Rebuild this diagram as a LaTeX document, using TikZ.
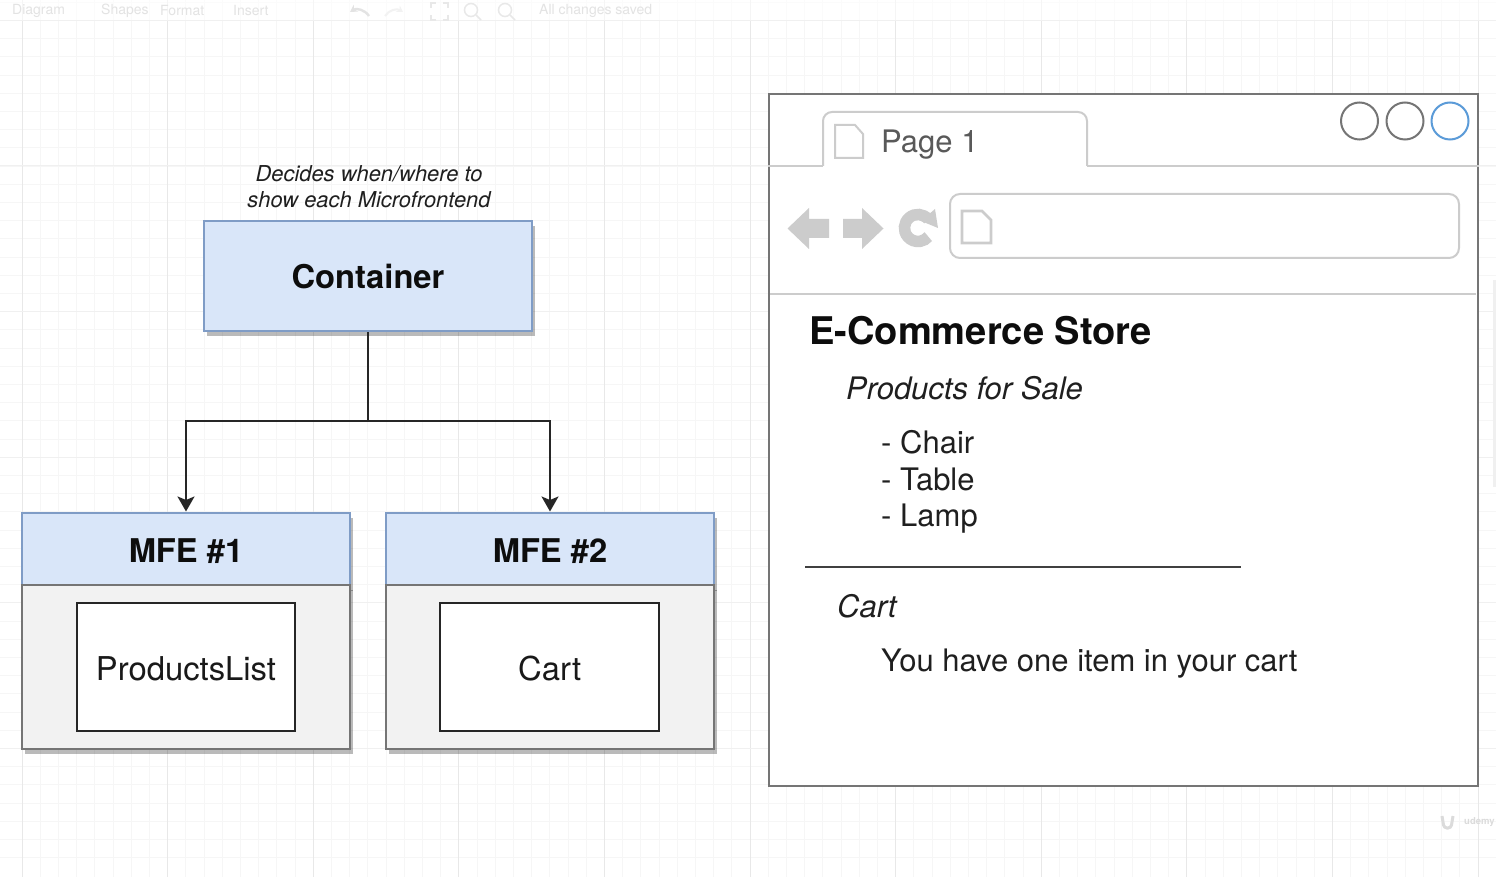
\documentclass[tikz,border=0pt]{standalone}
\usepackage{fontspec}
\setmainfont{TeX Gyre Heros}
\usepackage{tikz}
\usetikzlibrary{arrows.meta,shadows}

\definecolor{boxblue}{HTML}{D9E6F9}
\definecolor{boxedge}{HTML}{7F9CC6}
\definecolor{bodygray}{HTML}{F2F2F2}
\definecolor{edgegray}{HTML}{757575}
\definecolor{chromegray}{HTML}{CCCCCC}
\definecolor{iconblue}{HTML}{5B9BD8}

\newcommand{\fsize}[1]{\fontsize{#1}{#1}\selectfont}

\tikzset{
  boxshadow/.style={drop shadow={shadow xshift=3pt,shadow yshift=-5pt,fill=black,opacity=.27}},
  headbox/.style={draw=boxedge,fill=boxblue,line width=2pt,inner sep=0pt,text=black!95,text height=26pt,text depth=0pt,font=\bfseries\fsize{32.7}},
  bodybox/.style={draw=edgegray,fill=bodygray,line width=2pt,inner sep=0pt},
  innerbox/.style={draw=black!85,fill=white,line width=2pt,inner sep=0pt,minimum width=218.5pt,minimum height=128pt,text height=26.5pt,text depth=0pt,text=black!90,font=\fsize{32.8}},
  pagetext/.style={anchor=west,inner sep=0pt,text=black!88,font=\fsize{31}},
  flow/.style={draw=black!85,line width=2pt},
  chrome/.style={draw=chromegray,line width=2pt},
  winbtn/.style={circle,draw=#1,fill=white,line width=2pt,minimum size=37pt,inner sep=0pt},
  toolbar/.style={anchor=west,inner sep=0pt,text=black!11,font=\fsize{14}},
  docicon/.style={draw=chromegray,line width=2pt,fill=white},
}

\begin{document}
\begin{tikzpicture}[x=1pt,y=-1pt]
\useasboundingbox (0,0) rectangle (1496,877);
\clip (0,0) rectangle (1496,877);
\fill[white] (0,0) rectangle (1496,877);

% grid
\foreach \i in {0,...,82}
  \draw[black!3.5,line width=.8pt] ({22+18.2*\i},0) -- ++(0,877);
\foreach \i in {0,...,47}
  \draw[black!3.5,line width=.8pt] (0,{2.2+18.2*\i}) -- ++(1496,0);
\foreach \i in {0,...,10}
  \draw[black!9,line width=1pt] ({22+145.6*\i},0) -- ++(0,877);
\foreach \i in {0,...,5}
  \draw[black!6,line width=1pt] (0,{20.4+145.6*\i}) -- ++(1496,0);

% toolbar
\fill[white,opacity=.6] (0,0) rectangle (1496,20);
\node[toolbar] (menudiagram) at (12,11) {Diagram};
\node[toolbar] (menushapes) at (101,11) {Shapes};
\node[toolbar] (menuformat) at (160,11) {Format};
\node[toolbar] (menuinsert) at (233,11) {Insert};
\node[toolbar] (menusaved) at (539,11) {All changes saved};
\draw[black!11,line width=2.4pt,-{Stealth[length=7pt,width=8pt]}] (369,16) to[bend right=45] (350,12);
\draw[black!5,line width=2pt,-{Stealth[length=6pt,width=7pt]}] (385,16) to[bend left=45] (403,12);
\draw[black!9,line width=1.5pt] (431,8) -- (431,3) -- (436,3) (443,3) -- (448,3) -- (448,8)
  (448,15) -- (448,20) -- (443,20) (436,20) -- (431,20) -- (431,15);
\foreach \x in {471,505} {
  \draw[black!9,line width=1.5pt] (\x,10) circle (6.5);
  \draw[black!9,line width=1.5pt] (\x+5,15) -- (\x+10,20);
}

% scroll bar
\fill[black!6] (1493,280) rectangle (1496,487);

% left part: container and the two microfrontends
\node[inner sep=0pt,align=center,text=black!88,font=\itshape\fsize{21.9}] (note) at (369,186.5)
  {Decides when/where to\\[4pt]show each Microfrontend};
\node[headbox,boxshadow,minimum width=327.5pt,minimum height=110pt] (container) at (368,276) {Container};

\node[headbox,boxshadow,minimum width=327.5pt,minimum height=73pt] (mfeone) at (186,549) {MFE \#1};
\node[bodybox,boxshadow,minimum width=327.5pt,minimum height=164pt] (bodyone) at (186,667) {};
\node[innerbox] (productslist) at (186,667) {ProductsList};

\node[headbox,boxshadow,minimum width=327.5pt,minimum height=73pt] (mfetwo) at (550,549) {MFE \#2};
\node[bodybox,boxshadow,minimum width=327.5pt,minimum height=164pt] (bodytwo) at (550,667) {};
\node[innerbox] (cart) at (549.7,667) {Cart};

\coordinate (split) at (368,421);
\draw[flow] (container.south) -- (split);
\draw[flow,-{Stealth[length=15pt,width=17pt,inset=3.5pt]}] (split) -| (mfeone.north);
\draw[flow,-{Stealth[length=15pt,width=17pt,inset=3.5pt]}] (split) -| (mfetwo.north);

% browser window
\node[draw=edgegray,fill=white,line width=2pt,minimum width=709pt,minimum height=691pt,inner sep=0pt] (window) at (1123,440) {};

\coordinate (tableft) at (823,166);
\coordinate (tabright) at (1087,166);
\draw[chrome] (window.west |- tableft) -- (tableft);
\draw[chrome] (tabright) -- (window.east |- tabright);
\draw[chrome,rounded corners=9pt] (tableft) -- (823,112) -- (1087,112) -- (tabright);
\draw[chrome] (770,294) -- (1476,294);
\draw[chrome,rounded corners=10pt] (950,194) rectangle (1459,258);

% page icons
\draw[docicon] (835,125) -- (855,125) -- (863,134) -- (863,158) -- (835,158) -- cycle;
\draw[docicon,line width=2.8pt] (962,211) -- (982,211) -- (991,220) -- (991,243) -- (962,243) -- cycle;
\node[anchor=west,inner sep=0pt,text=black!65,font=\fsize{31}] (tablabel) at (881,145) {Page 1};

\node[winbtn=edgegray] (btnone) at (1359.5,121) {};
\node[winbtn=edgegray] (btntwo) at (1405,121) {};
\node[winbtn=iconblue] (btnthree) at (1450,121) {};

% back, forward and reload
\fill[chromegray] (787.5,228.5) -- (809,208) -- (809,219) -- (829,219) -- (829,238) -- (809,238) -- (809,249) -- cycle;
\fill[chromegray] (883.5,228.5) -- (862,208) -- (862,219) -- (843,219) -- (843,238) -- (862,238) -- (862,249) -- cycle;
\draw[chromegray,line width=11.5pt] (928.3,219.3) arc (-40:-320:13.5);
\fill[chromegray] (935,209) -- (938,228) -- (921,221) -- cycle;

% page content
\node[anchor=west,inner sep=0pt,text=black!95,font=\bfseries\fsize{38.1}] (title) at (809,331) {E-Commerce Store};
\node[pagetext,font=\itshape\fsize{31}] (products) at (846,388) {Products for Sale};
\node[pagetext] (chair) at (881,442) {- Chair};
\node[pagetext] (table) at (881,479) {- Table};
\node[pagetext] (lamp) at (881,519) {- Lamp};
\coordinate (ruleleft) at (805,567);
\coordinate (ruleright) at (1241,567);
\draw[black!75,line width=2pt] (ruleleft) -- (ruleright);
\node[pagetext,font=\itshape\fsize{31}] (cartlabel) at (837,606) {Cart};
\node[pagetext] (cartline) at (881,664) {You have one item in your cart};

% watermark
\node[anchor=west,inner sep=0pt,text=black!14,font=\bfseries\fsize{9.5}] (udemy) at (1464,822) {udemy};
\draw[black!14,line width=3pt,rounded corners=3pt] (1442,816) -- (1444,828) -- (1451,828) -- (1453,816);

\end{tikzpicture}
\end{document}
